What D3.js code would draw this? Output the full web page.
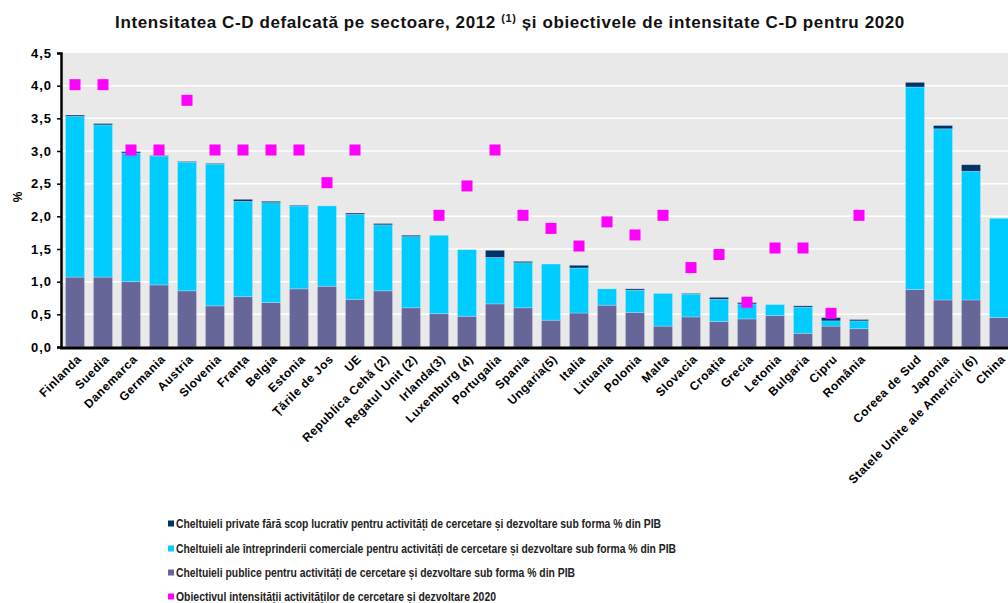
<!DOCTYPE html>
<head>
    <meta charset="utf-8">
    <title>Intensitatea C-D</title>
    <style>
        body { margin: 0; background: #fff; }
        text { font-family: Arial, "Liberation Sans", sans-serif; }
    </style>
</head>
<body>

<svg width="1008" height="603"></svg>

<script src="https://cdn.jsdelivr.net/npm/d3@7"></script>
<script>

    // date
    var categories = ["Finlanda", "Suedia", "Danemarca", "Germania", "Austria", "Slovenia", "Franța", "Belgia",
        "Estonia", "Țările de Jos", "UE", "Republica Cehă (2)", "Regatul Unit (2)", "Irlanda(3)", "Luxemburg (4)",
        "Portugalia", "Spania", "Ungaria(5)", "Italia", "Lituania", "Polonia", "Malta", "Slovacia", "Croația",
        "Grecia", "Letonia", "Bulgaria", "Cipru", "România", "", "Coreea de Sud", "Japonia",
        "Statele Unite ale Americii (6)", "China"];

    var publicVals = [1.07, 1.07, 1.00, 0.95, 0.86, 0.63, 0.77, 0.68, 0.89, 0.93, 0.73, 0.86, 0.60, 0.51, 0.47,
        0.66, 0.60, 0.41, 0.52, 0.64, 0.53, 0.32, 0.46, 0.39, 0.43, 0.48, 0.21, 0.32, 0.28, null, 0.88, 0.72, 0.72, 0.45];

    var businessVals = [2.46, 2.33, 1.97, 1.97, 1.97, 2.17, 1.46, 1.53, 1.27, 1.23, 1.30, 1.01, 1.09, 1.20, 1.02,
        0.71, 0.69, 0.86, 0.69, 0.25, 0.34, 0.50, 0.35, 0.34, 0.23, 0.17, 0.40, 0.08, 0.12, null, 3.10, 2.62, 1.97, 1.52];

    var nonprofitVals = [0.02, 0.02, 0.02, 0.01, 0.01, 0.01, 0.03, 0.02, 0.01, 0.00, 0.02, 0.02, 0.02, 0.00, 0.00,
        0.11, 0.02, 0.00, 0.04, 0.00, 0.02, 0.00, 0.01, 0.03, 0.02, 0.00, 0.02, 0.05, 0.02, null, 0.07, 0.05, 0.10, 0.00];

    var targetVals = [4.0, 4.0, 3.0, 3.0, 3.76, 3.0, 3.0, 3.0, 3.0, 2.5, 3.0, null, null, 2.0, 2.45,
        3.0, 2.0, 1.8, 1.53, 1.9, 1.7, 2.0, 1.2, 1.4, 0.67, 1.5, 1.5, 0.5, 2.0, null, null, null, null, null];

    var yTicks = [0, 0.5, 1, 1.5, 2, 2.5, 3, 3.5, 4, 4.5];

    var seriesNames = [
        "Cheltuieli private fără scop lucrativ pentru activități de cercetare și dezvoltare sub forma % din PIB",
        "Cheltuieli ale întreprinderii comerciale pentru activități de cercetare și dezvoltare sub forma % din PIB",
        "Cheltuieli publice  pentru activități de cercetare și dezvoltare sub forma % din PIB",
        "Obiectivul intensității activităților de cercetare și dezvoltare 2020"
    ];
    var seriesColors = ["#003366", "#00ccff", "#666699", "#ff00ff"];

    var svg = d3.select("svg");

    var x = d3.scaleBand()
        .domain(d3.range(categories.length))
        .range([61, 61 + categories.length * 28])
        .paddingInner(0.32)
        .paddingOuter(0.16);

    var y = d3.scaleLinear()
        .domain([0, 4.5])
        .range([347, 53]);

    // fundal gri
    svg.append("rect")
        .attr("x", 61)
        .attr("y", y(4.5))
        .attr("width", 1008 - 61)
        .attr("height", y(0) - y(4.5))
        .attr("fill", "#e9e9e9");

    svg.append("g")
        .selectAll("line")
        .data(yTicks.slice(1, -1))
        .enter().append("line")
            .attr("x1", 61)
            .attr("x2", 1008)
            .attr("y1", function(d) { return y(d); })
            .attr("y2", function(d) { return y(d); })
            .attr("stroke", "#fff")
            .attr("stroke-width", 1.5);

    // stive
    var rows = categories.map(function(c, i) {
        return { i: i, pub: publicVals[i], bus: businessVals[i], np: nonprofitVals[i] };
    }).filter(function(d) { return d.pub != null; });

    var stack = d3.stack().keys(["pub", "bus", "np"]);
    var stacked = stack(rows);
    var stackColors = { pub: "#666699", bus: "#00ccff", np: "#003366" };

    svg.append("g")
        .selectAll("g")
        .data(stacked)
        .enter().append("g")
            .attr("fill", function(s) { return stackColors[s.key]; })
        .selectAll("rect")
        .data(function(s) { return s; })
        .enter().append("rect")
            .attr("x", function(d) { return x(d.data.i); })
            .attr("width", x.bandwidth())
            .attr("y", function(d) { return y(d[1]); })
            .attr("height", function(d) { return y(d[0]) - y(d[1]); })
            .attr("stroke", "rgba(255,255,255,0.3)")
            .attr("stroke-width", 0.8);

    // obiective 2020
    svg.append("g")
        .selectAll("rect")
        .data(targetVals.map(function(v, i) { return { i: i, v: v }; }).filter(function(d) { return d.v != null; }))
        .enter().append("rect")
            .attr("x", function(d) { return x(d.i) + x.bandwidth() / 2 - 5.5; })
            .attr("y", function(d) { return y(d.v) - 6.5; })
            .attr("width", 11)
            .attr("height", 11)
            .attr("fill", "#ff00ff");

    // axe
    var yAxis = svg.append("g")
        .attr("transform", "translate(61,0)")
        .call(d3.axisLeft(y)
            .tickValues(yTicks)
            .tickSize(4)
            .tickPadding(5)
            .tickFormat(function(d) { return d3.format(".1f")(d).replace(".", ","); }));
    yAxis.select(".domain").attr("stroke-width", 2.5);
    yAxis.selectAll(".tick line").attr("stroke-width", 1.5);
    yAxis.selectAll("text")
        .attr("font-size", 13)
        .attr("font-weight", "bold")
        .attr("letter-spacing", 1)
        .attr("fill", "#000");

    svg.append("line")
        .attr("x1", 60)
        .attr("x2", 1008)
        .attr("y1", y(0) + 1)
        .attr("y2", y(0) + 1)
        .attr("stroke", "#000")
        .attr("stroke-width", 3);

    svg.append("g")
        .selectAll("text")
        .data(categories.map(function(c, i) { return { i: i, c: c }; }))
        .enter().append("text")
            .attr("transform", function(d) {
                return "translate(" + (x(d.i) + x.bandwidth() / 2 + 7) + ",360) rotate(-45)";
            })
            .attr("text-anchor", "end")
            .attr("font-size", 12)
            .attr("font-weight", "bold")
            .attr("letter-spacing", 0.5)
            .attr("fill", "#000")
            .text(function(d) { return d.c; });

    svg.append("text")
        .attr("transform", "translate(22,197) rotate(-90)")
        .attr("text-anchor", "middle")
        .attr("font-size", 12)
        .attr("font-weight", "bold")
        .text("%");

    // titlu
    var title = svg.append("text")
        .attr("x", 510)
        .attr("y", 28)
        .attr("text-anchor", "middle")
        .attr("font-size", 17)
        .attr("font-weight", "bold")
        .attr("letter-spacing", 0.6)
        .attr("fill", "#111");
    title.append("tspan").text("Intensitatea C-D defalcată pe sectoare, 2012 ");
    title.append("tspan").attr("font-size", 11).attr("dy", -6).text("(1)");
    title.append("tspan").attr("dy", 6).text(" și obiectivele de intensitate C-D pentru 2020");

    // legenda
    var legendY = [524, 549, 573, 597];
    var legendW = [485, 500, 399, 320];
    var legend = svg.append("g")
        .selectAll("g")
        .data(seriesNames)
        .enter().append("g")
            .attr("transform", function(d, i) { return "translate(168," + legendY[i] + ")"; });
    legend.append("rect")
        .attr("x", 0)
        .attr("y", -3.5)
        .attr("width", 6)
        .attr("height", 6)
        .attr("fill", function(d, i) { return seriesColors[i]; });
    legend.append("text")
        .attr("x", 8)
        .attr("y", 4)
        .attr("font-size", 12)
        .attr("font-weight", "bold")
        .attr("fill", "#222")
        .attr("textLength", function(d, i) { return legendW[i]; })
        .attr("lengthAdjust", "spacingAndGlyphs")
        .text(function(d) { return d; });

</script>

</body>
